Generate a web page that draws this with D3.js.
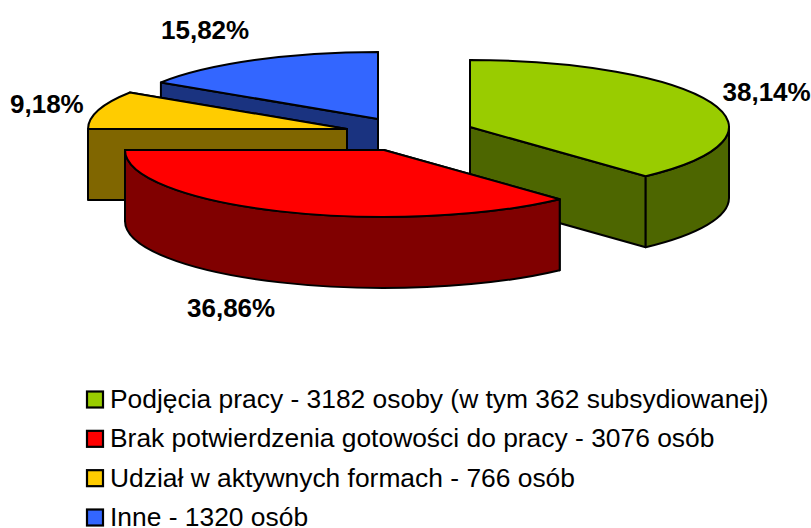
<!DOCTYPE html>
<html>
<head>
<meta charset="utf-8">
<script src="https://d3js.org/d3.v7.min.js"></script>
<style>
  html, body { margin: 0; padding: 0; background: #fff; }
  svg { display: block; }
  text { font-family: "Liberation Sans", Arial, sans-serif; fill: #000; }
  .pct { font-size: 26px; font-weight: bold; }
  .leg { font-size: 26.4px; }
</style>
</head>
<body>
<script>
// data
var categories = [
  "Podjęcia pracy - 3182 osoby (w tym 362 subsydiowanej)",
  "Brak potwierdzenia gotowości do pracy - 3076 osób",
  "Udział w aktywnych formach - 766 osób",
  "Inne - 1320 osób"
];
var values = [3182, 3076, 766, 1320];
var pctLabels = ["38,14%", "36,86%", "9,18%", "15,82%"];
var topColors = ["#99cc00", "#ff0000", "#ffcc00", "#3366ff"];
var wallColors = ["#4d6600", "#800000", "#806600", "#1a3380"];

// layout, one apex per slice because the pie is exploded
var width = 811, height = 528;
var rx = 259, ry = 67, depth = 71;
var apexes = [[470, 127], [384, 150], [347, 129], [378, 119]];
var labelPos = [[722.5, 100.5], [187, 316.5], [10, 112.5], [161, 38.5]];
var drawOrder = [3, 2, 0, 1];

var svg = d3.select("body").append("svg")
  .attr("width", width).attr("height", height);

var pie = d3.pie().sort(null).value(function(d) { return d; })
  .startAngle(0).endAngle(2 * Math.PI);
var slices = pie(values);

function pt(c, a, dy) {
  return [c[0] + rx * Math.sin(a), c[1] - ry * Math.cos(a) + (dy || 0)];
}
function arcTo(p, large, sweep) {
  return "A" + rx + "," + ry + " 0 " + (large ? 1 : 0) + " " + sweep + " " + p[0] + "," + p[1];
}
function poly(pts) {
  return "M" + pts.join("L") + "Z";
}
// flat wall from the apex out to the rim at angle a
function radialWall(c, a) {
  var p = pt(c, a);
  return poly([c, p, [p[0], p[1] + depth], [c[0], c[1] + depth]]);
}
// rim wall, only the part facing the viewer (90deg to 270deg)
function rimWall(c, a0, a1) {
  var s = Math.max(a0, Math.PI / 2), e = Math.min(a1, 3 * Math.PI / 2);
  if (e <= s) return null;
  var big = e - s > Math.PI;
  return "M" + pt(c, s) + arcTo(pt(c, e), big, 1) +
    "L" + pt(c, e, depth) + arcTo(pt(c, s, depth), big, 0) + "Z";
}
function topFace(c, a0, a1) {
  return "M" + c + "L" + pt(c, a0) + arcTo(pt(c, a1), a1 - a0 > Math.PI, 1) + "Z";
}

var groups = svg.selectAll("g.slice")
  .data(drawOrder)
  .enter().append("g")
  .attr("class", "slice")
  .attr("stroke", "#000")
  .attr("stroke-width", 2)
  .attr("stroke-linejoin", "round");

groups.each(function(i) {
  var g = d3.select(this), s = slices[i], c = apexes[i];
  g.append("path").attr("d", radialWall(c, s.endAngle)).attr("fill", wallColors[i]);
  g.append("path").attr("d", radialWall(c, s.startAngle)).attr("fill", wallColors[i]);
  var rim = rimWall(c, s.startAngle, s.endAngle);
  if (rim) g.append("path").attr("d", rim).attr("fill", wallColors[i]);
  g.append("path").attr("d", topFace(c, s.startAngle, s.endAngle)).attr("fill", topColors[i]);
});

// percent labels
svg.selectAll("text.pct")
  .data(pctLabels)
  .enter().append("text")
  .attr("class", "pct")
  .attr("x", function(d, i) { return labelPos[i][0]; })
  .attr("y", function(d, i) { return labelPos[i][1]; })
  .text(function(d) { return d; });

// legend
var legY = d3.scaleLinear().domain([0, 3]).range([399.5, 517.5]);
var leg = svg.selectAll("g.legrow")
  .data(categories)
  .enter().append("g")
  .attr("class", "legrow")
  .attr("transform", function(d, i) { return "translate(0," + legY(i) + ")"; });

leg.append("rect")
  .attr("x", 87).attr("y", -8)
  .attr("width", 16).attr("height", 16)
  .attr("fill", function(d, i) { return topColors[i]; })
  .attr("stroke", "#000").attr("stroke-width", 2.2);

leg.append("text")
  .attr("class", "leg")
  .attr("x", 110).attr("y", 8.5)
  .text(function(d) { return d; });
</script>
</body>
</html>
